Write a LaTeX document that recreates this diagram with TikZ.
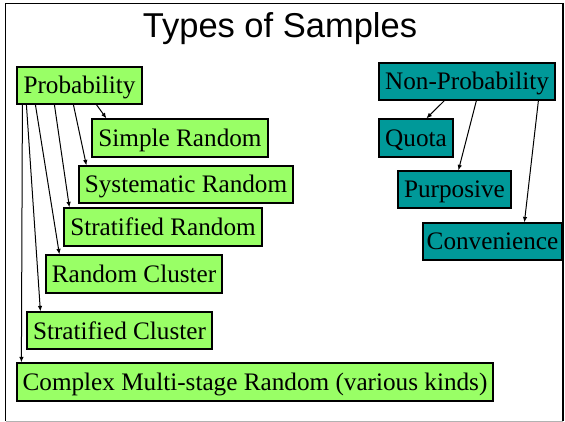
\documentclass[tikz,border=0pt]{standalone}
\usepackage{fontspec}
\setmainfont{Liberation Serif}
\newfontfamily\titlefont{Liberation Sans}
\usetikzlibrary{arrows.meta}
\definecolor{boxgreen}{RGB}{153,255,102}
\definecolor{boxteal}{RGB}{0,153,153}
\tikzset{
  basebox/.style={draw=black, line width=1.2pt, inner sep=0pt, anchor=center,
    font=\fontsize{25.2}{29}\selectfont, text=black, text height=17pt, text depth=0pt},
  gbox/.style={basebox, fill=boxgreen},
  tbox/.style={basebox, fill=boxteal},
  arr/.style={-{Latex[length=5.5pt,width=4.5pt]}, line width=1pt, black},
}
\begin{document}
\begin{tikzpicture}[x=1pt,y=-1pt]
\useasboundingbox (0,0) rectangle (565,422);
\fill[white] (0,0) rectangle (565,422);
% frame
\draw[line width=1.6pt, black] (5.5,421) -- (5.5,3.5) -- (563,3.5) -- (563,421);
\draw[line width=1pt, gray!60] (5.5,421) -- (563,421);
% title
\node[anchor=base, font=\titlefont\fontsize{34.5}{38}\selectfont, inner sep=0pt] (title) at (280,37.5) {Types of Samples};
% probability tree
\node[gbox, minimum width=125pt, minimum height=37pt] (prob) at (79.5,85.5) {Probability};
\node[gbox, minimum width=176pt, minimum height=38pt] (simple) at (180,138) {Simple Random};
\node[gbox, minimum width=214pt, minimum height=37pt] (syst) at (186,184.5) {Systematic Random};
\node[gbox, minimum width=198pt, minimum height=38pt] (strat) at (163,227) {Stratified Random};
\node[gbox, minimum width=176pt, minimum height=38pt] (rclus) at (134,274) {Random Cluster};
\node[gbox, minimum width=185pt, minimum height=37pt] (sclus) at (119.5,330.5) {Stratified Cluster};
\node[gbox, minimum width=476pt, minimum height=38pt] (complex) at (255,382) {Complex Multi-stage Random (various kinds)};
% non-probability tree
\node[tbox, minimum width=176pt, minimum height=37pt] (nonprob) at (467,81.5) {Non-Probability};
\node[tbox, minimum width=74pt, minimum height=38pt] (quota) at (416,138) {Quota};
\node[tbox, minimum width=113pt, minimum height=37pt] (purp) at (454.5,189.5) {Purposive};
\node[tbox, minimum width=139pt, minimum height=37pt] (conv) at (492.5,241.5) {Convenience};
% arrows probability
\draw[arr] ([xshift=80pt]prob.south west) -- ([xshift=15pt]simple.north west);
\draw[arr] ([xshift=57pt]prob.south west) -- ([xshift=8pt]syst.north west);
\draw[arr] ([xshift=38pt]prob.south west) -- ([xshift=6pt]strat.north west);
\draw[arr] ([xshift=19pt]prob.south west) -- ([xshift=14pt]rclus.north west);
\draw[arr] ([xshift=10pt]prob.south west) -- ([xshift=14pt]sclus.north west);
\draw[arr] ([xshift=6pt]prob.south west) -- ([xshift=5pt]complex.north west);
% arrows non-probability
\draw[arr] ([xshift=66pt]nonprob.south west) -- ([xshift=48pt]quota.north west);
\draw[arr] ([xshift=98pt]nonprob.south west) -- ([xshift=61pt]purp.north west);
\draw[arr] ([xshift=160pt]nonprob.south west) -- ([xshift=102pt]conv.north west);
\end{tikzpicture}
\end{document}
